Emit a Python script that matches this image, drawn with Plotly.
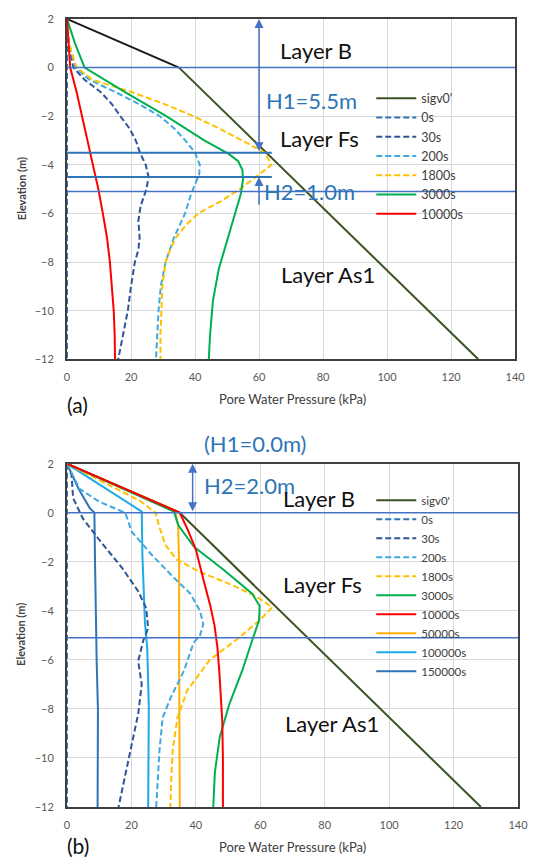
import plotly.graph_objects as go

# ---------------- values (pore water pressure in kPa vs elevation in m) ----------------
# effective overburden stress, shared by both cases
SIGV_TOP_U = [0, 35]
SIGV_TOP_Z = [2, 0]
SIGV_U = [35, 128.5]
SIGV_Z = [0, -12]

# zero-time profile (both cases)
P0_U = [0, 0]
P0_Z = [2, -12]

# ---- case (a): H1 = 5.5 m, H2 = 1.0 m ----
A30_U = [0, 0.4, 2, 5.5, 10.5, 14, 16.7, 19.5, 21.5, 22.8, 24.6, 25.5, 24.8, 23, 22.3, 22.7, 22.3, 21.2, 20, 19, 17.5, 16]
A30_Z = [2, 1, 0, -0.5, -1, -1.5, -2, -2.5, -3, -3.5, -4, -4.5, -5, -5.7, -6.3, -7, -7.5, -8, -9, -10, -11, -12]
A200_U = [0, 0.7, 2.5, 7, 15, 22.5, 29, 33.5, 37, 40, 41.5, 41.3, 40, 38.8, 36.9, 33.4, 30.8, 29.3, 28.6, 28.1, 27.8]
A200_Z = [2, 1, 0, -0.5, -1, -1.5, -2, -2.5, -3, -3.5, -4, -4.4, -4.8, -5.2, -6, -7, -8, -9, -10, -11, -12]
A1800_U = [0, 0.6, 3, 8, 20, 30.5, 39.5, 47.5, 54.7, 61.8, 63.9, 58.8, 54, 48, 41, 37, 34, 32.2, 30.8, 29.8, 29.4, 29.2, 29.2]
A1800_Z = [2, 1, 0, -0.5, -1, -1.5, -2, -2.5, -3, -3.5, -4, -4.5, -5, -5.5, -6, -6.5, -7, -7.5, -8, -9, -10, -11, -12]
A3000_U = [0, 2.5, 5.5, 18, 31, 43, 50.5, 53.5, 54.8, 55, 54.3, 53, 51.5, 49.8, 47.4, 45.6, 44.7, 44.3]
A3000_Z = [2, 1, 0, -1, -2, -3, -3.55, -3.85, -4.2, -4.6, -5.2, -5.8, -6.5, -7.3, -8.3, -9.6, -11, -12]
A10000_U = [0, 0.5, 1, 3, 4.7, 6.5, 8.2, 9.8, 11.2, 12.5, 13.4, 14.1, 14.6, 14.9, 15]
A10000_Z = [2, 1, 0, -1, -2, -3, -4, -5, -6, -7, -8, -9, -10, -11, -12]

# ---- case (b): H1 = 0.0 m, H2 = 2.0 m ----
B30_U = [0, 1.4, 1.9, 4.9, 10, 17.1, 22.1, 24.6, 25.2, 23.7, 22.1, 23.2, 22.1, 19.6, 16]
B30_Z = [2, 1.55, 0.6, -0.23, -1.1, -2.25, -3.2, -3.9, -4.7, -5.2, -6.05, -7, -8.2, -9.7, -12]
B200_U = [0, 3.9, 10, 18.1, 20.1, 26.2, 33.2, 38.3, 41.3, 42.3, 41.3, 39.3, 36.3, 32.3, 29.7, 28.7, 27.7]
B200_Z = [2, 0.98, 0.45, 0, -0.77, -1.7, -2.65, -3.3, -4, -4.55, -5, -5.3, -6.45, -7.5, -8.35, -9.7, -12]
B1800_U = [0, 13, 22.5, 27.5, 28.5, 30.5, 34, 41, 50.4, 58.6, 63.7, 62, 59.6, 56, 52.4, 44.3, 37.3, 34.3, 32.8, 32.3, 32.1]
B1800_Z = [2, 1.15, 0.5, 0, -0.5, -1.3, -1.9, -2.4, -2.9, -3.4, -3.85, -4.1, -4.4, -4.8, -5.2, -6, -7.25, -8.35, -9.7, -11, -12]
B3000_U = [0, 16.5, 33.2, 34.5, 39.5, 48.4, 57.5, 59.8, 59.6, 57.5, 54.5, 50.4, 47.4, 45.9, 45.4]
B3000_Z = [2, 1.02, 0.05, -0.5, -1.4, -2.3, -3.3, -3.8, -4.4, -5.2, -6.4, -7.8, -9.15, -10.6, -12]
B10000_U = [0, 17.5, 35, 37.5, 40, 42.5, 44.5, 45.8, 46.7, 47.3, 47.8, 48.2, 48.4, 48.4]
B10000_Z = [2, 1, 0, -0.7, -1.5, -2.8, -3.8, -4.6, -5.5, -6.5, -7.5, -8.5, -10, -12]
B50000_U = [0, 17, 33.5, 34.5, 34.8, 34.8, 35, 35]
B50000_Z = [2, 1.05, 0.1, -0.5, -2, -6, -10, -12]
B100000_U = [0, 10, 23.2, 23.4, 24.2, 24.9, 25.4, 25.2]
B100000_Z = [2, 1.15, 0.05, -1.7, -4.5, -5.5, -7.9, -12]
B150000_U = [0, 3.5, 7, 8.5, 8.7, 8.9, 9.2, 9.6, 9.6, 9.5]
B150000_Z = [2, 1, 0.2, 0, -2, -4, -6, -8, -10, -12]

# layer boundaries (elevation, m) and drainage-layer limits
A_FULL_BOUNDS = [0, -5.1]
A_DRAIN_BOUNDS = [-3.5, -4.5]
A_DRAIN_BOUND_END = 64
B_FULL_BOUNDS = [0, -5.1]

X_TICKS = [0, 20, 40, 60, 80, 100, 120, 140]
Y_TICKS = [2, 0, -2, -4, -6, -8, -10, -12]

# ---------------- styling ----------------
FONT = "Lato"
BLUE_TXT = "#2e75b6"
BOUND_CLR = "#4472c4"
C_SIGV = "#3b5323"
C_0 = "#2e75b6"
C_30 = "#2f5597"
C_200 = "#3fa9e0"
C_1800 = "#ffc000"
C_3000 = "#00b050"
C_10000 = "#ff0000"
C_50000 = "#ffb000"
C_100000 = "#1eaae7"
C_150000 = "#2e75b6"
DASH = "6px,3px"
LW = 2

fig = go.Figure()


def add(u, z, name, color, dash, xa, ya, legend, show=True):
    fig.add_trace(go.Scatter(
        x=u, y=z, mode="lines", name=name,
        line=dict(color=color, width=LW, dash=dash),
        xaxis=xa, yaxis=ya, legend=legend, showlegend=show,
        hoverinfo="skip",
    ))


# panel (a)
add(SIGV_TOP_U, SIGV_TOP_Z, "sigv0' top", "#1a1a1a", "solid", "x", "y", "legend", False)
add(SIGV_U, SIGV_Z, "sigv0'", C_SIGV, "solid", "x", "y", "legend")
add(P0_U, P0_Z, "0s", C_0, DASH, "x", "y", "legend")
add(A30_U, A30_Z, "30s", C_30, DASH, "x", "y", "legend")
add(A200_U, A200_Z, "200s", C_200, DASH, "x", "y", "legend")
add(A1800_U, A1800_Z, "1800s", C_1800, DASH, "x", "y", "legend")
add(A3000_U, A3000_Z, "3000s", C_3000, "solid", "x", "y", "legend")
add(A10000_U, A10000_Z, "10000s", C_10000, "solid", "x", "y", "legend")

# panel (b)
add(B150000_U, B150000_Z, "150000s", C_150000, "solid", "x2", "y2", "legend2", False)
add(B100000_U, B100000_Z, "100000s", C_100000, "solid", "x2", "y2", "legend2", False)
add(B50000_U, B50000_Z, "50000s", C_50000, "solid", "x2", "y2", "legend2", False)
add(SIGV_TOP_U, SIGV_TOP_Z, "sigv0' top", "#1a1a1a", "solid", "x2", "y2", "legend2", False)
add(SIGV_U, SIGV_Z, "sigv0'", C_SIGV, "solid", "x2", "y2", "legend2")
add(P0_U, P0_Z, "0s", C_0, DASH, "x2", "y2", "legend2")
add(B30_U, B30_Z, "30s", C_30, DASH, "x2", "y2", "legend2")
add(B200_U, B200_Z, "200s", C_200, DASH, "x2", "y2", "legend2")
add(B1800_U, B1800_Z, "1800s", C_1800, DASH, "x2", "y2", "legend2")
add(B3000_U, B3000_Z, "3000s", C_3000, "solid", "x2", "y2", "legend2")
add(B10000_U, B10000_Z, "10000s", C_10000, "solid", "x2", "y2", "legend2")
# legend entries for the long-time profiles (listed after 10000s)
for n, c in [("50000s", C_50000), ("100000s", C_100000), ("150000s", C_150000)]:
    fig.add_trace(go.Scatter(x=[None], y=[None], mode="lines", name=n,
                             line=dict(color=c, width=LW), xaxis="x2", yaxis="y2",
                             legend="legend2", hoverinfo="skip"))

# layer boundary lines
shapes = []
for zb in A_FULL_BOUNDS:
    shapes.append(dict(type="line", xref="x", yref="y", x0=0, x1=140, y0=zb, y1=zb,
                       line=dict(color=BOUND_CLR, width=1.5)))
for zb in A_DRAIN_BOUNDS:
    shapes.append(dict(type="line", xref="x", yref="y", x0=0, x1=A_DRAIN_BOUND_END, y0=zb, y1=zb,
                       line=dict(color=BLUE_TXT, width=2)))
for zb in B_FULL_BOUNDS:
    shapes.append(dict(type="line", xref="x2", yref="y2", x0=0, x1=140, y0=zb, y1=zb,
                       line=dict(color=BOUND_CLR, width=1.5)))

ann = []


def arrow(xr, yr, x, y_head, y_tail, both=True):
    ann.append(dict(xref=xr, yref=yr, axref=xr, ayref=yr, x=x, y=y_head, ax=x, ay=y_tail,
                    text="", showarrow=True, arrowhead=2, arrowsize=1.2, arrowwidth=1.5,
                    arrowcolor=BOUND_CLR, arrowside="end+start" if both else "end"))


def label(xr, yr, x, y, text, color="#111111", size=22):
    ann.append(dict(xref=xr, yref=yr, x=x, y=y, text=text, showarrow=False,
                    font=dict(family=FONT, size=size, color=color),
                    xanchor="center", yanchor="middle"))


W, H = 540, 857
ML, MR, MT, MB = 67, 12, 15, 50
PH = H - MT - MB
PW = W - ML - MR


def px2paper_y(py):
    return 1 - (py - MT) / PH


def px2paper_x(px):
    return (px - ML) / PW


# panel (a) annotations
arrow("x", "y", 60, 2, -3.5, True)
arrow("x", "y", 60, -4.5, -5.7, False)
label("x", "y", 77.8, 0.69, "Layer B")
label("x", "y", 76.3, -1.35, "H1=5.5m", BLUE_TXT)
label("x", "y", 79, -2.9, "Layer Fs")
label("x", "y", 75.7, -5.08, "H2=1.0m", BLUE_TXT)
label("x", "y", 81.5, -8.5, "Layer As1")

# panel (b) annotations
arrow("x2", "y2", 39, 2, 0, True)
label("paper", "paper", px2paper_x(260), px2paper_y(442), "(H1=0.0m)", BLUE_TXT)
label("x2", "y2", 56.5, 1.1, "H2=2.0m", BLUE_TXT)
label("x2", "y2", 78.3, 0.58, "Layer B")
label("x2", "y2", 79.3, -2.91, "Layer Fs")
label("x2", "y2", 82.3, -8.59, "Layer As1")

# axis titles and panel tags
for py_title, py_tag, tag, pyc in [(397, 402, "(a)", 186), (847, 846, "(b)", 634)]:
    ann.append(dict(xref="paper", yref="paper", x=px2paper_x(297), y=px2paper_y(py_title),
                    text="Pore Water Pressure (kPa)", showarrow=False,
                    font=dict(family=FONT, size=13, color="#404040"),
                    xanchor="center", yanchor="middle"))
    ann.append(dict(xref="paper", yref="paper", x=px2paper_x(78), y=px2paper_y(py_tag),
                    text=tag, showarrow=False,
                    font=dict(family=FONT, size=21, color="#111111"),
                    xanchor="center", yanchor="middle"))
    ann.append(dict(xref="paper", yref="paper", x=px2paper_x(20), y=px2paper_y(pyc),
                    text="<b>Elevation (m)</b>", showarrow=False, textangle=-90,
                    font=dict(family=FONT, size=11, color="#404040"),
                    xanchor="center", yanchor="middle"))

axis_common = dict(
    showgrid=True, gridcolor="#d9d9d9", gridwidth=1,
    zeroline=False, showline=True, linecolor="#3f3f3f", linewidth=2, mirror=True,
    ticks="", layer="below traces",
    tickfont=dict(family=FONT, size=11, color="#595959"),
)

a_dom = [px2paper_y(357), 1.0]
b_dom = [0.0, px2paper_y(462)]

fig.update_layout(
    width=W, height=H,
    margin=dict(l=ML, r=MR, t=MT, b=MB),
    paper_bgcolor="white", plot_bgcolor="white",
    font=dict(family=FONT),
    showlegend=True,
    xaxis=dict(axis_common, range=[0, 140], tickvals=X_TICKS, domain=[0, (525 - ML) / PW],
               anchor="y", ticklabelstandoff=7),
    yaxis=dict(axis_common, range=[-12, 2], tickvals=Y_TICKS, domain=a_dom,
               anchor="x", ticklabelstandoff=9),
    xaxis2=dict(axis_common, range=[0, 140], tickvals=X_TICKS, domain=[0, 1],
                anchor="y2", ticklabelstandoff=7),
    yaxis2=dict(axis_common, range=[-12, 2], tickvals=Y_TICKS, domain=b_dom,
                anchor="x2", ticklabelstandoff=9),
    legend=dict(x=px2paper_x(378), y=px2paper_y(80), xanchor="left", yanchor="top",
                bgcolor="rgba(0,0,0,0)", borderwidth=0,
                font=dict(family=FONT, size=12.5, color="#404040"), itemwidth=40),
    legend2=dict(x=px2paper_x(378), y=px2paper_y(484), xanchor="left", yanchor="top",
                 bgcolor="rgba(0,0,0,0)", borderwidth=0,
                 font=dict(family=FONT, size=11.5, color="#404040"), itemwidth=40),
    shapes=shapes,
    annotations=ann,
)

fig.write_html("out.html")
